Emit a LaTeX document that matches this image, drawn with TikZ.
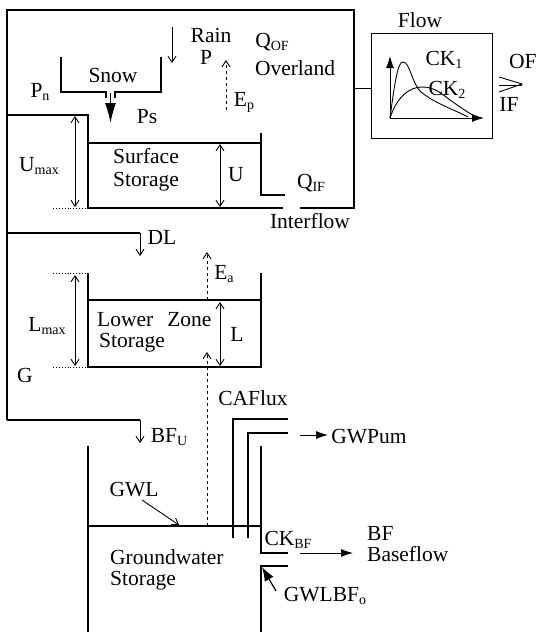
\documentclass[tikz,border=0pt]{standalone}
\usepackage{fontspec}
\setmainfont{Liberation Serif}
\usetikzlibrary{arrows.meta}
\newcommand{\lsb}[1]{\raisebox{-0.3ex}{\fontsize{14}{14}\selectfont #1}}
\tikzset{
  wall/.style={line width=1.8pt},
  thin/.style={line width=0.9pt},
  dots/.style={line width=0.9pt, dotted},
  arr/.style={thin, -{Straight Barb[length=6pt,width=8pt]}},
  darr/.style={thin, {Straight Barb[length=6pt,width=8pt]}-{Straight Barb[length=6pt,width=8pt]}},
  dashedarr/.style={thin, dashed, -{Straight Barb[length=6pt,width=8pt]}},
  farr/.style={thin, -{Latex[length=12pt,width=8pt]}},
  lbl/.style={font=\fontsize{21.5}{23}\selectfont, inner sep=0pt, align=center}
}
\begin{document}
\begin{tikzpicture}[x=1pt,y=-1pt]
\useasboundingbox (0,0) rectangle (536,633);
% ---------- coordinates ----------
\coordinate (tl) at (7,10);
\coordinate (tr) at (354,10);
\coordinate (br) at (354,208);
% outer upper box
\draw[wall] (7,420) -- (tl) -- (tr) -- (br) -- (300,208);
\draw[wall] (283,208) -- (88,208) -- (88,115) -- (7,115);
% surface storage level and right wall
\draw[wall] (88,143) -- (261,143);
\draw[wall] (261,133) -- (261,195) -- (285,195);
% snow container
\draw[wall] (61,57) -- (61,92) -- (106,92) -- (106,98);
\draw[wall] (115,98) -- (115,92) -- (161,92) -- (161,57);
\coordinate (snowout) at (110.5,93);
\coordinate (snowtip) at (110.5,123);
\draw[line width=1.4pt, -{Latex[length=20pt,width=11pt]}] (snowout) -- (snowtip);
% rain arrow
\coordinate (rainA) at (172,27);
\coordinate (rainB) at (172,63);
\draw[arr] (rainA) -- (rainB);
% Ep
\coordinate (epA) at (226,110);
\coordinate (epB) at (226,60);
\draw[dashedarr] (epA) -- (epB);
% Umax, U
\coordinate (umA) at (75,116);
\coordinate (umB) at (75,207);
\draw[darr] (umA) -- (umB);
\draw[dots] (53,208) -- (88,208);
\coordinate (uA) at (220,144);
\coordinate (uB) at (220,207);
\draw[darr] (uA) -- (uB);
% flow box
\node[draw, thin, minimum width=121pt, minimum height=105pt, inner sep=0pt] (flowbox) at (432,86) {};
\draw[thin] (br |- 0,88) -- (flowbox.west |- 0,88);
\coordinate (org) at (390,118);
\coordinate (yax) at (390,56);
\coordinate (xax) at (484,118);
\draw[farr] (org) -- (yax);
\draw[farr] (org) -- (xax);
\draw[thin] (org) .. controls (395,80) and (398,62) .. (403,62) .. controls (410,62) and (412,84) .. (421,92) .. controls (436,104) and (455,110) .. (468,117);
\draw[thin] (org) .. controls (397,97) and (409,87) .. (422,87) .. controls (434,87) and (441,93) .. (450,100) .. controls (460,107) and (470,114) .. (478,118);
% OF/IF arrow
\draw[thin] (499,77) -- (522,84) -- (499,92);
\draw[thin] (499,85) -- (522,85);
% DL
\coordinate (dlA) at (140,233);
\coordinate (dlB) at (140,256);
\draw[wall] (7,233) -- (dlA);
\draw[arr] (dlA) -- (dlB);
% lower zone storage
\draw[wall] (88,273) -- (88,367) -- (261,367) -- (261,273);
\draw[wall] (88,300) -- (261,300);
\draw[dots] (53,273) -- (88,273);
\draw[dots] (53,367) -- (88,367);
\coordinate (lmA) at (75,275);
\coordinate (lmB) at (75,366);
\draw[darr] (lmA) -- (lmB);
\coordinate (lA) at (220,302);
\coordinate (lB) at (220,366);
\draw[darr] (lA) -- (lB);
\coordinate (eaA) at (207,300);
\coordinate (eaB) at (207,252);
\draw[dashedarr] (eaA) -- (eaB);
\coordinate (cafA) at (207,526);
\coordinate (cafB) at (207,352);
\draw[dashedarr] (cafA) -- (cafB);
% BFU
\coordinate (bfuA) at (140,420);
\coordinate (bfuB) at (140,443);
\draw[wall] (7,420) -- (bfuA);
\draw[arr] (bfuA) -- (bfuB);
% groundwater storage
\draw[wall] (88,446) -- (88,632);
\draw[wall] (88,526) -- (261,526);
\draw[wall] (233,538) -- (233,419) -- (288,419);
\draw[wall] (248,538) -- (248,433) -- (288,433);
\draw[wall] (261,446) -- (261,553) -- (288,553);
\draw[wall] (288,566) -- (261,566) -- (261,632);
% GWL arrow
\coordinate (gwlA) at (142,500);
\coordinate (gwlB) at (179,525);
\draw[arr] (gwlA) -- (gwlB);
% GWPum arrow
\coordinate (gwpA) at (300,435);
\coordinate (gwpB) at (328,435);
\draw[farr] (gwpA) -- (gwpB);
% Baseflow arrow
\coordinate (bfA) at (300,553);
\coordinate (bfB) at (353,553);
\draw[farr] (bfA) -- (bfB);
% GWLBFo arrow
\coordinate (glA) at (276,591);
\coordinate (glB) at (262,567);
\draw[line width=1.2pt, -{Latex[length=14pt,width=10pt]}] (glA) -- (glB);
% ---------- labels ----------
\node[lbl] (rain) at (211,35) {Rain};
\node[lbl] (p) at (206,57) {P};
\node[lbl] (snow) at (113,75) {Snow};
\node[lbl] (pn) at (40,92) {P\lsb{n}};
\node[lbl] (ps) at (147,117) {Ps};
\node[lbl] (ep) at (244,102) {E\lsb{p}};
\node[lbl] (qof) at (272,42) {Q\lsb{OF}};
\node[lbl] (overland) at (295,68) {Overland};
\node[lbl] (flow) at (420,20) {Flow};
\node[lbl] (ck1) at (444,60) {CK\lsb{1}};
\node[lbl] (ck2) at (447,90) {CK\lsb{2}};
\node[lbl, anchor=west] (of) at (509,61) {OF};
\node[lbl] (if) at (509,104) {IF};
\node[lbl] (umax) at (39,166) {U\lsb{max}};
\node[lbl] (surf) at (146,170) {Surface\\Storage};
\node[lbl] (u) at (236,175) {U};
\node[lbl] (qif) at (311,183) {Q\lsb{IF}};
\node[lbl] (interflow) at (310,221) {Interflow};
\node[lbl] (dl) at (162,237) {DL};
\node[lbl] (ea) at (224,274) {E\lsb{a}};
\node[lbl] (lmax) at (47,326) {L\lsb{max}};
\node[lbl, anchor=west] (lower) at (97,320) {Lower\hspace{14pt}Zone};
\node[lbl, anchor=west] (lstor) at (99,343) {Storage};
\node[lbl] (l) at (237,334) {L};
\node[lbl] (g) at (25,375) {G};
\node[lbl] (caflux) at (253,398) {CAFlux};
\node[lbl] (bfu) at (169,437) {BF\lsb{U}};
\node[lbl] (gwl) at (134,490) {GWL};
\node[lbl, anchor=west] (gw) at (110,557) {Groundwater};
\node[lbl, anchor=west] (gstor) at (110,581) {Storage};
\node[lbl] (gwpum) at (369,437) {GWPum};
\node[lbl, anchor=west] (bf) at (367,533) {BF};
\node[lbl, anchor=west] (baseflow) at (367,554) {Baseflow};
\node[lbl] (ckbf) at (288,540) {CK\lsb{BF}};
\node[lbl] (gwlbf) at (325,596) {GWLBF\lsb{o}};
\end{tikzpicture}
\end{document}
